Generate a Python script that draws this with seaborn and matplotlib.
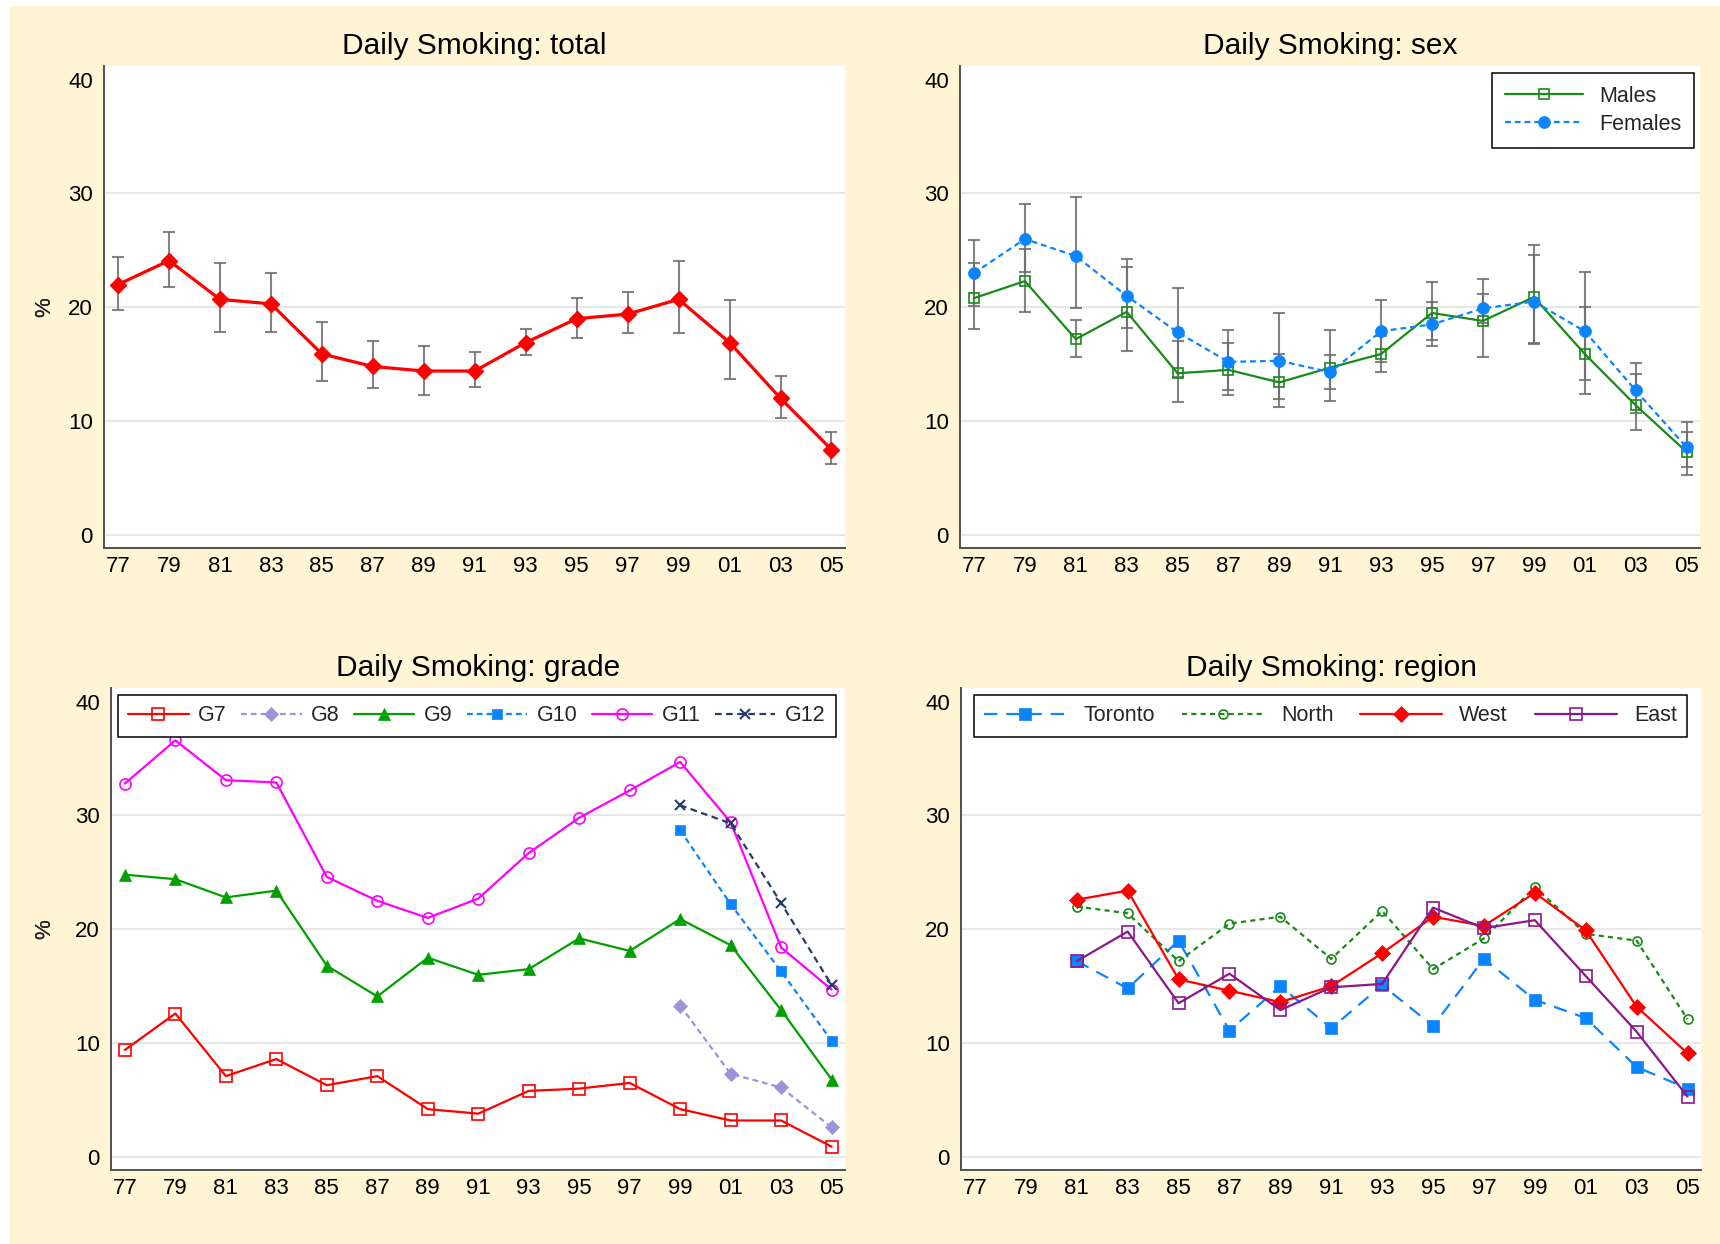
import matplotlib
matplotlib.use("Agg")
import matplotlib.pyplot as plt
from matplotlib.patches import Rectangle
import seaborn as sns

# ---- data -----------------------------------------------------------------
years = list(range(1977, 2006, 2))
years_late = [1999, 2001, 2003, 2005]
years_region = list(range(1981, 2006, 2))
year_labels = [f"{y % 100:02d}" for y in years]

total = [22.0, 24.1, 20.7, 20.3, 15.9, 14.8, 14.4, 14.4, 16.9, 19.0, 19.4, 20.7, 16.9, 12.0, 7.5]
total_lo = [19.8, 21.8, 17.8, 17.8, 13.5, 12.9, 12.3, 13.0, 15.8, 17.3, 17.7, 17.7, 13.7, 10.3, 6.2]
total_hi = [24.4, 26.6, 23.9, 23.0, 18.7, 17.0, 16.6, 16.1, 18.1, 20.8, 21.3, 24.1, 20.6, 14.0, 9.0]

males = [20.8, 22.3, 17.2, 19.6, 14.2, 14.5, 13.4, 14.7, 15.9, 19.5, 18.8, 20.9, 15.9, 11.4, 7.3]
males_lo = [18.1, 19.6, 15.6, 16.2, 11.7, 12.7, 11.9, 12.8, 14.3, 17.1, 15.6, 16.8, 12.4, 9.2, 6.0]
males_hi = [23.9, 25.1, 18.9, 23.5, 17.0, 16.9, 15.9, 15.8, 17.5, 22.2, 22.5, 25.5, 20.0, 14.1, 9.0]
females = [23.0, 26.0, 24.5, 21.0, 17.8, 15.2, 15.3, 14.3, 17.9, 18.5, 19.9, 20.5, 17.9, 12.7, 7.7]
females_lo = [20.1, 23.1, 19.9, 18.2, 13.9, 12.3, 11.2, 11.8, 15.2, 16.6, 18.6, 16.9, 13.6, 10.7, 5.3]
females_hi = [25.9, 29.1, 29.7, 24.2, 21.7, 18.0, 19.5, 18.0, 20.6, 20.5, 21.2, 24.6, 23.1, 15.1, 9.9]

g7 = [9.4, 12.6, 7.1, 8.6, 6.3, 7.1, 4.2, 3.8, 5.8, 6.0, 6.5, 4.2, 3.2, 3.2, 0.9]
g8 = [13.3, 7.3, 6.1, 2.6]
g9 = [24.8, 24.4, 22.8, 23.4, 16.8, 14.1, 17.5, 16.0, 16.5, 19.2, 18.1, 20.9, 18.6, 12.9, 6.8]
g10 = [28.7, 22.2, 16.3, 10.2]
g11 = [32.8, 36.6, 33.1, 32.9, 24.6, 22.5, 21.0, 22.7, 26.7, 29.8, 32.2, 34.7, 29.4, 18.4, 14.7]
g12 = [30.9, 29.3, 22.3, 15.1]

toronto = [17.2, 14.8, 19.0, 11.1, 15.0, 11.3, 15.1, 11.5, 17.4, 13.8, 12.2, 7.9, 6.0]
north = [22.0, 21.4, 17.2, 20.5, 21.1, 17.4, 21.6, 16.5, 19.2, 23.7, 19.6, 19.0, 12.1]
west = [22.6, 23.4, 15.6, 14.6, 13.6, 15.0, 17.9, 21.1, 20.3, 23.2, 19.9, 13.2, 9.1]
east = [17.2, 19.8, 13.5, 16.1, 12.9, 14.9, 15.2, 21.9, 20.1, 20.8, 15.9, 11.0, 5.3]

# ---- style ----------------------------------------------------------------
sns.set_style("white")
plt.rcParams["font.family"] = ["Liberation Sans", "DejaVu Sans"]

W, H = 1720, 1244
CREAM = "#FFF5D4"
ERR = "#6E6E6E"
RED = "#FF0000"
GREEN_D = "#178A17"
BLUE = "#0A84FF"
LAVENDER = "#9C94D6"
GREEN_B = "#00A000"
MAGENTA = "#FF00FF"
NAVY = "#2A3A6A"
PURPLE = "#8B178B"

TICK_FS = 16
LEG_FS = 15.5
TITLE_FS = 21.5

fig = plt.figure(figsize=(W / 100, H / 100), dpi=100, facecolor="white")
fig.patches.append(Rectangle((10 / W, 0), 1 - 10 / W, 1 - 6 / H, transform=fig.transFigure,
                             facecolor=CREAM, edgecolor="none", zorder=-1))


def add_axes(left, right, top, bottom):
    return fig.add_axes([left / W, 1 - bottom / H, (right - left) / W, (bottom - top) / H])


def style_axes(ax, title, left_px, right_px):
    ax.set_facecolor("white")
    ax.set_xlim(1976.45, 2005.53)
    ax.set_ylim(-1.15, 41.2)
    ax.set_xticks(years)
    ax.set_xticklabels(year_labels)
    ax.set_yticks([0, 10, 20, 30, 40])
    for v in [0, 10, 20, 30]:
        ax.axhline(v, color="#E8E8E8", lw=1.5, zorder=0)
    ax.set_title(title, fontsize=TITLE_FS, pad=8.6, color="black")
    ax.set_ylabel("%", fontsize=16)
    ax.yaxis.set_label_coords((55 - left_px) / (right_px - left_px), 0.5)
    ax.set_xlabel("")
    for s in ["top", "right"]:
        ax.spines[s].set_visible(False)
    for s in ["left", "bottom"]:
        ax.spines[s].set_color("#505050")
        ax.spines[s].set_linewidth(1.4)
    ax.tick_params(axis="x", direction="inout", length=6, width=1.1, color="#444444",
                   labelsize=TICK_FS, pad=3, labelcolor="black")
    ax.tick_params(axis="y", direction="out", length=6.5, width=1.1, color="#444444",
                   labelsize=TICK_FS, pad=1.5, labelcolor="black")


def ci(ax, x, y, lo, hi):
    ax.errorbar(x, y, yerr=[[a - b for a, b in zip(y, lo)], [b - a for a, b in zip(y, hi)]],
                fmt="none", ecolor=ERR, elinewidth=1.5, capsize=4, capthick=1.5,
                alpha=0.85, zorder=2)


def frame(leg):
    leg.get_frame().set_linewidth(1.1)
    leg.get_frame().set_edgecolor("black")


# ---- total ----------------------------------------------------------------
ax1 = add_axes(104, 845, 66, 548)
ci(ax1, years, total, total_lo, total_hi)
sns.lineplot(x=years, y=total, ax=ax1, color=RED, lw=2.3, marker="D", markersize=8.4,
             markeredgecolor=RED, markeredgewidth=1, zorder=3)
style_axes(ax1, "Daily Smoking: total", 104, 845)

# ---- sex ------------------------------------------------------------------
ax2 = add_axes(960, 1700, 66, 548)
sns.lineplot(x=years, y=males, ax=ax2, color=GREEN_D, lw=1.6, marker="s", markersize=7.5,
             markerfacecolor="none", markeredgecolor=GREEN_D, markeredgewidth=1.2,
             label="Males", zorder=3)
ci(ax2, years, males, males_lo, males_hi)
ci(ax2, years, females, females_lo, females_hi)
sns.lineplot(x=years, y=females, ax=ax2, color=BLUE, lw=1.6, linestyle=(0, (2.6, 1.8)),
             marker="o", markersize=8.6, markerfacecolor=BLUE, markeredgecolor=BLUE,
             markeredgewidth=0.5, label="Females", zorder=4)
style_axes(ax2, "Daily Smoking: sex", 960, 1700)
leg = ax2.legend(loc="upper right", bbox_to_anchor=(1 - 6 / 740, 1 - 7 / 482), borderaxespad=0,
                 frameon=True, fancybox=False, framealpha=1, fontsize=LEG_FS,
                 handlelength=3.6, handletextpad=0.75, borderpad=0.6, labelspacing=0.31)
frame(leg)

# ---- grade ----------------------------------------------------------------
ax3 = add_axes(111, 845, 688, 1170)
sns.lineplot(x=years, y=g7, ax=ax3, color=RED, lw=1.6, marker="s", markersize=8,
             markerfacecolor="none", markeredgecolor=RED, markeredgewidth=1.2, label="G7")
sns.lineplot(x=years_late, y=g8, ax=ax3, color=LAVENDER, lw=1.6, linestyle=(0, (2.6, 1.8)),
             marker="D", markersize=7, markerfacecolor=LAVENDER, markeredgecolor=LAVENDER,
             markeredgewidth=0.5, label="G8")
sns.lineplot(x=years, y=g9, ax=ax3, color=GREEN_B, lw=1.6, marker="^", markersize=8.5,
             markerfacecolor=GREEN_B, markeredgecolor=GREEN_B, markeredgewidth=0.5, label="G9")
sns.lineplot(x=years_late, y=g10, ax=ax3, color=BLUE, lw=1.6, linestyle=(0, (2.6, 1.8)),
             marker="s", markersize=7.5, markerfacecolor=BLUE, markeredgecolor=BLUE,
             markeredgewidth=0.5, label="G10")
sns.lineplot(x=years, y=g11, ax=ax3, color=MAGENTA, lw=1.6, marker="o", markersize=8,
             markerfacecolor="none", markeredgecolor=MAGENTA, markeredgewidth=1.2, label="G11")
sns.lineplot(x=years_late, y=g12, ax=ax3, color=NAVY, lw=1.6, linestyle=(0, (3, 2)),
             marker="x", markersize=6.5, markeredgecolor=NAVY, markeredgewidth=1.5, label="G12")
style_axes(ax3, "Daily Smoking: grade", 111, 845)
leg = ax3.legend(loc="upper left", bbox_to_anchor=(7 / 734, 1 - 7 / 482, 718 / 734, 0),
                 mode="expand", ncol=6, borderaxespad=0, frameon=True, fancybox=False,
                 framealpha=1, fontsize=LEG_FS, handlelength=2.8,
                 handletextpad=0.45, borderpad=0.48, columnspacing=0.6)
frame(leg)

# ---- region ---------------------------------------------------------------
ax4 = add_axes(961, 1701, 688, 1170)
sns.lineplot(x=years_region, y=toronto, ax=ax4, color=BLUE, lw=1.6, linestyle=(0, (6, 4)),
             marker="s", markersize=8, markerfacecolor=BLUE, markeredgecolor=BLUE,
             markeredgewidth=0.5, label="Toronto")
sns.lineplot(x=years_region, y=north, ax=ax4, color=GREEN_D, lw=1.6, linestyle=(0, (2.3, 1.9)),
             marker="o", markersize=6.5, markerfacecolor="none", markeredgecolor=GREEN_D,
             markeredgewidth=1.2, label="North")
sns.lineplot(x=years_region, y=west, ax=ax4, color=RED, lw=1.6, marker="D", markersize=8.5,
             markerfacecolor=RED, markeredgecolor=RED, markeredgewidth=0.5, label="West")
sns.lineplot(x=years_region, y=east, ax=ax4, color=PURPLE, lw=1.6, marker="s", markersize=8,
             markerfacecolor="none", markeredgecolor=PURPLE, markeredgewidth=1.2, label="East")
style_axes(ax4, "Daily Smoking: region", 961, 1701)
leg = ax4.legend(loc="upper left", bbox_to_anchor=(13 / 740, 1 - 7 / 482, 713 / 740, 0),
                 mode="expand", ncol=4, borderaxespad=0, frameon=True, fancybox=False,
                 framealpha=1, fontsize=LEG_FS, handlelength=3.8,
                 handletextpad=0.8, borderpad=0.48, columnspacing=1.0)
frame(leg)

fig.savefig("out.png", dpi=100, facecolor=fig.get_facecolor())
